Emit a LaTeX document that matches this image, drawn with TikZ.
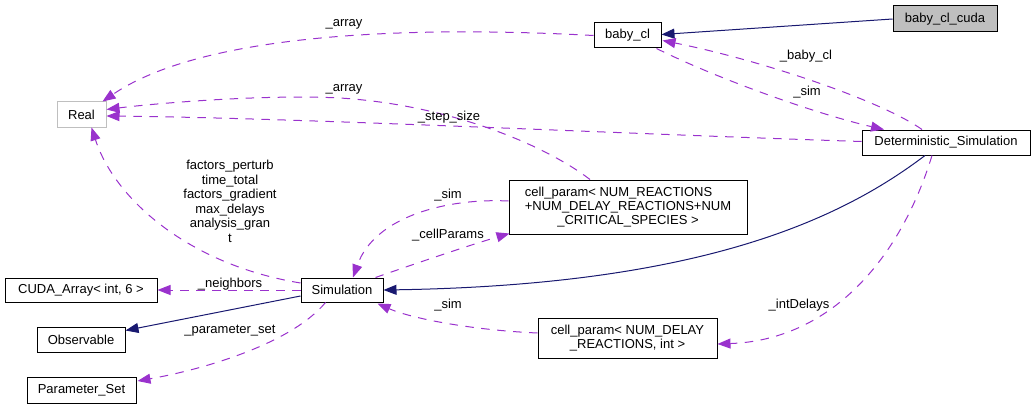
\documentclass[tikz,border=0pt]{standalone}
\usepackage{fontspec}
\setmainfont{Liberation Sans}
\usetikzlibrary{arrows.meta,calc}
\definecolor{dxnavy}{HTML}{191970}
\definecolor{dxpurple}{HTML}{9A32CD}
\definecolor{dxgray}{HTML}{BFBFBF}
\begin{document}
\begin{tikzpicture}[x=1pt,y=-1pt,
  box/.style={draw=black,line width=1pt,inner sep=0pt,font=\fontsize{13}{14}\selectfont,align=center},
  lbl/.style={inner sep=0pt,font=\fontsize{13}{14.5}\selectfont,align=center},
  inh/.style={draw=dxnavy,line width=1pt,-{Triangle[length=13pt,width=10pt]}},
  use/.style={draw=dxpurple,line width=1pt,dash pattern=on 8.5pt off 7.5pt,-{Triangle[length=13pt,width=10pt]}}]
\useasboundingbox (0,0) rectangle (1035,409);

% nodes
\node[box,fill=dxgray,minimum width=104pt,minimum height=26pt] (cuda) at (945,19) {baby\_cl\_cuda};
\node[box,minimum width=67pt,minimum height=25pt] (babycl) at (627.5,35.5) {baby\_cl};
\node[box,draw=dxgray,minimum width=49pt,minimum height=25pt] (real) at (81.5,114.5) {Real};
\node[box,minimum width=168pt,minimum height=25pt] (det) at (946,142.5) {Deterministic\_Simulation};
\node[box,minimum width=238pt,minimum height=54pt] (cpbig) at (628,207)
  {{\sbox0{+NUM\_DELAY\_REACTIONS+NUM}\makebox[\wd0][l]{cell\_param< NUM\_REACTIONS}}\\+NUM\_DELAY\_REACTIONS+NUM\\\_CRITICAL\_SPECIES >};
\node[box,minimum width=152pt,minimum height=24pt] (cudaarr) at (81,290) {CUDA\_Array< int, 6 >};
\node[box,minimum width=82pt,minimum height=24pt] (sim) at (342,290) {Simulation};
\node[box,minimum width=88pt,minimum height=25pt] (obs) at (81,339.5) {Observable};
\node[box,minimum width=109pt,minimum height=26pt] (pset) at (81.5,390) {Parameter\_Set};
\node[box,minimum width=179pt,minimum height=40pt] (cpdelay) at (627.5,338) {cell\_param< NUM\_DELAY\\\_REACTIONS, int >};

% inheritance
\draw[inh] (cuda.west) -- ($(babycl.east)+(0,-1)$);
\draw[inh] ($(sim.west)+(0,6)$) -- ($(obs.east)+(0,-9)$);
\draw[inh] ($(det.south)+(-21,0)$) .. controls (840,220) and (700,285) .. (sim.east);

% usage
\draw[use] (babycl.west) .. controls (400,25) and (200,35) .. ($(real.north east)+(-4,0)$);
\draw[use] ($(cpbig.north)+(-38,0)$) .. controls (545,145) and (450,105) .. (340,98)
   .. controls (260,94) and (150,104) .. ($(real.east)+(0,-5)$);
\draw[use] ($(det.west)+(0,-1)$) .. controls (600,133) and (300,118) .. ($(real.east)+(0,1.5)$);
\draw[use] ($(det.north)+(-24,0)$) .. controls (880,100) and (760,60) .. ($(babycl.east)+(1,5)$);
\draw[use] ($(babycl.south east)+(-5,0)$) .. controls (720,80) and (820,115) .. ($(det.north)+(-62,0)$);
\draw[use] ($(sim.west)+(0,-7)$) .. controls (190,265) and (115,200) .. ($(real.south)+(10,0)$);
\draw[use] (sim.west) -- (cudaarr.east);
\draw[use] ($(sim.south west)+(25,0)$) .. controls (290,345) and (200,370) .. ($(pset.east)+(1,-9)$);
\draw[use] ($(cpbig.west)+(0,-6)$) .. controls (450,198) and (375,215) .. ($(sim.north)+(11,0)$);
\draw[use] ($(sim.north east)+(-8,0)$) .. controls (420,262) and (470,245) .. ($(cpbig.south west)+(1,-1)$);
\draw[use] ($(cpdelay.west)+(0,-5)$) .. controls (470,330) and (410,318) .. ($(sim.south east)+(-6,1)$);
\draw[use] ($(det.south)+(-14,0)$) .. controls (900,260) and (830,340) .. ($(cpdelay.east)+(0,6)$);

% labels
\node[lbl] (l1) at (344,24) {\_array};
\node[lbl] (l2) at (344,89) {\_array};
\node[lbl] (l3) at (449,117) {\_step\_size};
\node[lbl] (l4) at (806,56) {\_baby\_cl};
\node[lbl] (l5) at (807,92) {\_sim};
\node[lbl] (l6) at (230,201.5) {factors\_perturb\\time\_total\\factors\_gradient\\max\_delays\\analysis\_gran\\t};
\node[lbl] (l7) at (448,195) {\_sim};
\node[lbl] (l8) at (448,235) {\_cellParams};
\node[lbl] (l9) at (230,284) {\_neighbors};
\node[lbl] (l10) at (230,331) {\_parameter\_set};
\node[lbl] (l11) at (448,305) {\_sim};
\node[lbl] (l12) at (799,305) {\_intDelays};
\end{tikzpicture}
\end{document}
